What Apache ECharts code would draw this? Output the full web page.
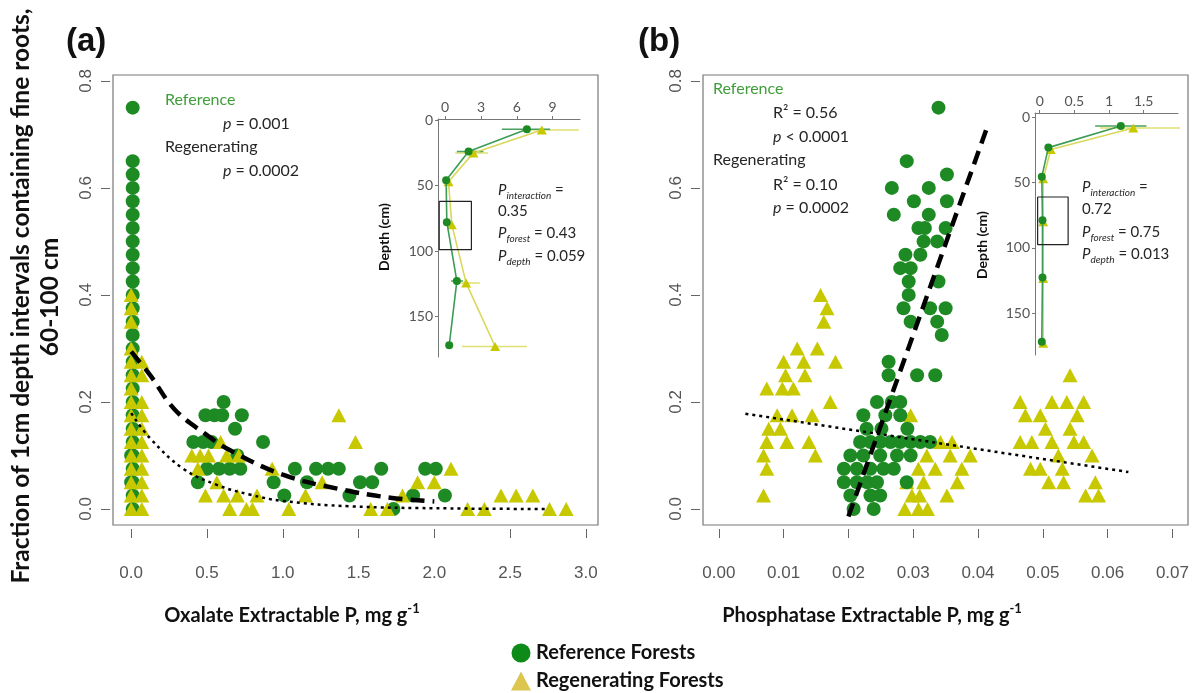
<!DOCTYPE html>
<html><head><meta charset="utf-8">
<script src="https://cdn.jsdelivr.net/npm/echarts@6/dist/echarts.min.js"></script>
<style>html,body{margin:0;padding:0;background:#fff}#c{width:1203px;height:693px}</style>
</head><body><div id="c"></div>
<script>
// ---------- tick labels ----------
const ticksAx = [0, 0.5, 1, 1.5, 2, 2.5, 3];
const ticksBx = [0, 0.01, 0.02, 0.03, 0.04, 0.05, 0.06, 0.07];
const ticksY = [0, 0.2, 0.4, 0.6, 0.8];
const ticksInsetAx = [0, 3, 6, 9];
const ticksInsetBx = [0, 0.5, 1, 1.5];
const ticksDepth = [0, 50, 100, 150];

// ---------- panel (a): oxalate P vs fraction ----------
const refA = [
  [0.01,0.75],[0.01,0.65],[0.01,0.625],[0.01,0.6],[0.01,0.575],[0.01,0.55],[0.01,0.525],[0.01,0.5],
  [0.01,0.475],[0.01,0.45],[0.01,0.425],[0.01,0.4],[0.01,0.375],[0.01,0.35],[0.01,0.325],[0.01,0.3],
  [0.01,0.275],[0.01,0.25],[0.01,0.225],[0.01,0.2],[0.01,0.175],[0.01,0.15],[0.01,0.125],[0.01,0.1],
  [0.01,0.075],[0.01,0.05],[0.01,0.025],[0.01,0.0],[0.0,0.1],[0.0,0.05],
  [0.61,0.2],[0.49,0.175],[0.55,0.175],[0.60,0.175],[0.73,0.175],[0.685,0.15],[0.41,0.125],[0.475,0.125],
  [0.53,0.125],[0.87,0.125],[0.70,0.1],[0.50,0.075],[0.58,0.075],[0.65,0.075],[0.72,0.075],[1.08,0.075],
  [1.22,0.075],[1.30,0.075],[1.37,0.075],[1.65,0.075],[1.94,0.075],[2.01,0.075],[0.44,0.05],[0.94,0.05],
  [1.16,0.05],[1.51,0.05],[1.59,0.05],[1.01,0.025],[1.44,0.025],[1.86,0.025],[2.07,0.025],[1.73,0.0]
];
const regA = [
  [0.0,0.4],[0.0,0.375],[0.0,0.35],[0.0,0.3],[0.0,0.275],[0.0,0.25],[0.0,0.225],[0.0,0.2],[0.0,0.175],
  [0.0,0.15],[0.0,0.125],[0.0,0.1],[0.0,0.075],[0.0,0.05],[0.0,0.025],[0.0,0.0],
  [0.07,0.275],[0.07,0.25],[0.07,0.2],[0.07,0.175],[0.07,0.15],[0.07,0.125],[0.07,0.1],[0.07,0.075],
  [0.07,0.05],[0.07,0.025],[0.07,0.0],
  [1.37,0.175],[1.48,0.125],[0.59,0.125],[0.40,0.1],[0.455,0.1],[0.51,0.1],[0.63,0.1],[0.71,0.1],
  [0.44,0.075],[0.93,0.075],[2.11,0.075],[0.565,0.05],[1.26,0.05],[1.89,0.05],[2.0,0.05],
  [0.49,0.025],[0.61,0.025],[0.70,0.025],[0.83,0.025],[1.15,0.025],[1.79,0.025],[2.44,0.025],[2.54,0.025],[2.65,0.025],
  [0.65,0],[0.76,0],[0.80,0],[1.04,0],[1.58,0],[1.69,0],[2.22,0],[2.33,0],[2.76,0],[2.87,0]
];
const fitRefA = [[0,0.294],[0.125,0.25],[0.29,0.185],[0.5,0.138],[0.65,0.11],[1.0,0.064],[1.36,0.038],[1.71,0.021],[2.0,0.014]];
const fitRegA = [[0,0.179],[0.125,0.132],[0.345,0.075],[0.565,0.045],[0.78,0.027],[1.0,0.015],[1.44,0.005],[2.1,0.001],[2.73,0.0]];

// ---------- panel (b): phosphatase P vs fraction ----------
const refB = [
  [0.0339,0.75],[0.0290,0.65],[0.0352,0.625],[0.0267,0.6],[0.0324,0.6],[0.0301,0.575],[0.0352,0.575],
  [0.0270,0.55],[0.0324,0.55],[0.0308,0.525],[0.0318,0.525],[0.0350,0.525],[0.0316,0.5],[0.0337,0.5],
  [0.0288,0.475],[0.0311,0.475],[0.0280,0.45],[0.0296,0.45],[0.0293,0.425],[0.0339,0.425],[0.0293,0.4],
  [0.0285,0.375],[0.0326,0.375],[0.0350,0.375],[0.0296,0.35],[0.0337,0.35],[0.0344,0.325],
  [0.0262,0.275],[0.0262,0.25],[0.0306,0.25],[0.0334,0.25],
  [0.0244,0.2],[0.0267,0.2],[0.0280,0.2],[0.0223,0.175],[0.0257,0.175],[0.0280,0.175],
  [0.0228,0.15],[0.0251,0.15],[0.0291,0.15],
  [0.0218,0.125],[0.0234,0.125],[0.0249,0.125],[0.0265,0.125],[0.0280,0.125],[0.0296,0.125],[0.0311,0.125],[0.0326,0.125],
  [0.0203,0.1],[0.0223,0.1],[0.0249,0.1],[0.0275,0.1],[0.0296,0.1],
  [0.0193,0.075],[0.0213,0.075],[0.0234,0.075],[0.0254,0.075],[0.0270,0.075],
  [0.0193,0.05],[0.0213,0.05],[0.0229,0.05],[0.0244,0.05],[0.0290,0.05],
  [0.0203,0.025],[0.0234,0.025],[0.0249,0.025],[0.0208,0.0],[0.0239,0.0]
];
const regB = [
  [0.0157,0.4],[0.0167,0.375],[0.0162,0.35],[0.0121,0.3],[0.0152,0.3],[0.0100,0.275],[0.0131,0.275],[0.0180,0.275],
  [0.0103,0.25],[0.0133,0.25],[0.0074,0.225],[0.0098,0.225],[0.0115,0.225],[0.0172,0.2],[0.0090,0.175],[0.0113,0.175],
  [0.0144,0.175],[0.0077,0.15],[0.0095,0.15],[0.0074,0.125],[0.0105,0.125],[0.0139,0.125],[0.0069,0.1],[0.0149,0.1],
  [0.0074,0.075],[0.0069,0.025],
  [0.0296,0.175],[0.0342,0.125],[0.0360,0.125],[0.0321,0.1],[0.0357,0.1],[0.0388,0.1],[0.0375,0.075],[0.0308,0.075],
  [0.0334,0.075],[0.0290,0.05],[0.0316,0.05],[0.0368,0.05],[0.0310,0.025],[0.0352,0.025],[0.0298,0.025],
  [0.0287,0.0],[0.0308,0.0],[0.0322,0.0],
  [0.0542,0.25],[0.0465,0.2],[0.0514,0.2],[0.0537,0.2],[0.0563,0.2],[0.0473,0.175],[0.0496,0.175],[0.0553,0.175],
  [0.0504,0.15],[0.0542,0.15],[0.0465,0.125],[0.0483,0.125],[0.0514,0.125],[0.0548,0.125],[0.0563,0.125],
  [0.0524,0.1],[0.0576,0.1],[0.0481,0.075],[0.0496,0.075],[0.0530,0.075],[0.0509,0.05],[0.0532,0.05],[0.0581,0.05],
  [0.0566,0.025],[0.0586,0.025]
];
const fitRefB = [[0.0200,-0.014],[0.0416,0.72]];
const fitRegB = [[0.0041,0.178],[0.0632,0.069]];

// ---------- insets: mean P by depth ----------
const depthRefA = [7, 24, 46, 78, 123, 172];
const insetRefA = [6.85, 1.96, 0.08, 0.14, 0.98, 0.34];
const depthRegA = [7.5, 25, 47, 80, 124.5, 173];
const insetRegA = [8.1, 2.37, 0.28, 0.56, 1.76, 4.19];
const errRefA = [[7, 4.75, 8.8], [24, 0.98, 3.2], [123, 0.5, 1.5]];
const errRegA = [[7.5, 6.85, 11.2], [25, 0.84, 3.6], [124.5, 0.7, 2.9], [173, 1.4, 6.85]];
const boxA = [-0.5, 2.2, 62, 99];

const depthRefB = [6.6, 23.2, 45.6, 78.8, 122.7, 171.9];
const insetRefB = [1.17, 0.125, 0.03, 0.04, 0.04, 0.03];
const depthRegB = [8.2, 24.7, 47, 80, 123.4, 173];
const insetRegB = [1.35, 0.16, 0.05, 0.05, 0.05, 0.05];
const errRefB = [[6.6, 0.8, 1.54]];
const errRegB = [[8.2, 0.87, 2.05]];
const boxB = [-0.03, 0.41, 61, 97.5];

// ---------- styling ----------
const GREEN = '#1e8a24', YEL = '#c8c800';
const FT = 'Lato, "Open Sans", sans-serif';
const FN = '"Liberation Sans", Arial, sans-serif';

function mainX(g, min, max, ticks, dec) {
  return {type:'value', gridIndex:g, min, max, position:'bottom', offset:4,
    axisLine:{show:false, onZero:false},
    axisTick:{show:true, length:9, customValues:ticks, lineStyle:{color:'#666'}},
    axisLabel:{customValues:ticks, formatter:v=>v.toFixed(dec), margin:36, fontSize:17, color:'#555', fontFamily:FN},
    splitLine:{show:false}};
}
function mainY(g) {
  return {type:'value', gridIndex:g, min:-0.03, max:0.811, offset:3,
    axisLine:{show:false, onZero:false},
    axisTick:{show:true, length:9, customValues:ticksY, lineStyle:{color:'#666'}},
    axisLabel:{customValues:ticksY, formatter:v=>v.toFixed(1), rotate:90, margin:15, fontSize:17, color:'#555', fontFamily:FN},
    splitLine:{show:false}};
}
function insetX(g, min, max, ticks) {
  return {type:'value', gridIndex:g, min, max, position:'top',
    axisLine:{show:true, onZero:false, lineStyle:{color:'#777'}},
    axisTick:{show:true, length:3, customValues:ticks, lineStyle:{color:'#777'}},
    axisLabel:{customValues:ticks, margin:5, fontSize:14, color:'#555', fontFamily:FT},
    splitLine:{show:false}};
}
function insetY(g, min, max) {
  return {type:'value', gridIndex:g, min, max, inverse:true,
    axisLine:{show:true, onZero:false, lineStyle:{color:'#777'}},
    axisTick:{show:true, length:3, customValues:ticksDepth, lineStyle:{color:'#777'}},
    axisLabel:{customValues:ticksDepth, margin:5, fontSize:14, color:'#555', fontFamily:FT},
    splitLine:{show:false}};
}

const series = [];
function scatter(name, xi, data, sym, size, color, z) {
  series.push({type:'scatter', name, xAxisIndex:xi, yAxisIndex:xi, data, symbol:sym, symbolSize:size,
    itemStyle:{color, opacity:1}, z, silent:true});
}
function fitLine(xi, data, width, dash, smooth) {
  series.push({type:'line', xAxisIndex:xi, yAxisIndex:xi, data, smooth, symbol:'none', z:5, silent:true,
    lineStyle:{color:'#000', width, type:dash, cap:'butt'}});
}
// panel a
scatter('Reference Forests', 0, refA, 'circle', 14, GREEN, 2);
scatter('Regenerating Forests', 0, regA, 'triangle', [15,14], YEL, 3);
fitLine(0, fitRefA, 4.5, [14,8], 0.4);
fitLine(0, fitRegA, 2.5, [3,4], 0.4);
// panel b
scatter('Regenerating Forests', 1, regB, 'triangle', [15,14], YEL, 2);
scatter('Reference Forests', 1, refB, 'circle', 14, GREEN, 3);
fitLine(1, fitRefB, 4.5, [14,8], false);
fitLine(1, fitRegB, 2.5, [3,4], false);

function inset(xi, xsR, dsR, xsG, dsG, errR, errG, box) {
  const lineG = '#3d9c55', lineY = '#d8d85a';
  errG.forEach(e => series.push({type:'line', xAxisIndex:xi, yAxisIndex:xi, data:[[e[1],e[0]],[e[2],e[0]]], symbol:'none', z:6, silent:true, lineStyle:{color:'#e0e070', width:1.5}}));
  errR.forEach(e => series.push({type:'line', xAxisIndex:xi, yAxisIndex:xi, data:[[e[1],e[0]],[e[2],e[0]]], symbol:'none', z:6, silent:true, lineStyle:{color:'#4aa060', width:1.5}}));
  series.push({type:'line', xAxisIndex:xi, yAxisIndex:xi, data:xsG.map((v,i)=>[v, dsG[i]]), symbol:'triangle', symbolSize:[10,9], z:7, silent:true,
    lineStyle:{color:lineY, width:1.6}, itemStyle:{color:YEL}});
  series.push({type:'line', xAxisIndex:xi, yAxisIndex:xi, data:xsR.map((v,i)=>[v, dsR[i]]), symbol:'circle', symbolSize:8, z:8, silent:true,
    lineStyle:{color:lineG, width:1.6}, itemStyle:{color:GREEN}});
  series.push({type:'line', xAxisIndex:xi, yAxisIndex:xi, symbol:'none', z:9, silent:true,
    data:[[box[0],box[2]],[box[1],box[2]],[box[1],box[3]],[box[0],box[3]],[box[0],box[2]]],
    lineStyle:{color:'#222', width:1.2}});
}
inset(2, insetRefA, depthRefA, insetRegA, depthRegA, errRefA, errRegA, boxA);
inset(3, insetRefB, depthRefB, insetRegB, depthRegB, errRefB, errRegB, boxB);

// ---------- texts ----------
const TXT = '#262626';
function t(x, y, text, o) {
  return Object.assign({type:'text', x, y, z:20, silent:true,
    style:Object.assign({text, fill:TXT, font:'16px ' + FT, align:'left', verticalAlign:'middle'}, (o && o.style) || {})},
    o && o.rotation ? {rotation:o.rotation} : {});
}
const richAnn = {
  n:{fontSize:16, fontFamily:FT, fill:TXT, lineHeight:22},
  i:{fontSize:16, fontFamily:FT, fontStyle:'italic', fill:TXT, lineHeight:22}
};
const richP = {
  n:{fontSize:15, fontFamily:FT, fill:TXT, lineHeight:21},
  i:{fontSize:15, fontFamily:FT, fontStyle:'italic', fill:TXT, lineHeight:21},
  s:{fontSize:10, fontFamily:FT, fontStyle:'italic', fill:TXT, verticalAlign:'bottom'}
};
const richTitle = {
  b:{fontSize:20, fontFamily:FT, fontWeight:'bold', fill:'#111', lineHeight:28},
  sup:{fontSize:13, fontFamily:FT, fontWeight:'bold', fill:'#111', verticalAlign:'top'}
};
const graphics = [
  t(66, 42, '(a)', {style:{font:'bold 33px "Liberation Sans", Arial, sans-serif', fill:'#111'}}),
  t(638, 42, '(b)', {style:{font:'bold 33px "Liberation Sans", Arial, sans-serif', fill:'#111'}}),
  // y axis title
  t(21, 296, 'Fraction of 1cm depth intervals containing fine roots,', {rotation:Math.PI/2, style:{font:'bold 24.5px ' + FT, fill:'#111', align:'center'}}),
  t(50, 297, '60-100 cm', {rotation:Math.PI/2, style:{font:'bold 24.5px ' + FT, fill:'#111', align:'center'}}),
  // x axis titles
  t(292, 616, '{b|Oxalate Extractable P, mg g}{sup|-1}', {style:{rich:richTitle, align:'center'}}),
  t(872, 616, '{b|Phosphatase Extractable P, mg g}{sup|-1}', {style:{rich:richTitle, align:'center'}}),
  // panel a annotations
  t(165, 100, 'Reference', {style:{fill:'#3f9e3a'}}),
  t(223, 124, '{i|p}{n| = 0.001}', {style:{rich:richAnn}}),
  t(165, 147, 'Regenerating'),
  t(223, 171, '{i|p}{n| = 0.0002}', {style:{rich:richAnn}}),
  // panel b annotations
  t(713, 89, 'Reference', {style:{fill:'#3f9e3a'}}),
  t(773, 113, 'R² = 0.56'),
  t(773, 137, '{i|p}{n| < 0.0001}', {style:{rich:richAnn}}),
  t(713, 160, 'Regenerating'),
  t(773, 185, 'R² = 0.10'),
  t(773, 208, '{i|p}{n| = 0.0002}', {style:{rich:richAnn}}),
  // inset a
  t(498, 190, '{i|P}{s|interaction}{n| =}', {style:{rich:richP}}),
  t(498, 211, '0.35', {style:{font:'15px ' + FT}}),
  t(498, 233, '{i|P}{s|forest}{n| = 0.43}', {style:{rich:richP}}),
  t(498, 256, '{i|P}{s|depth}{n| = 0.059}', {style:{rich:richP}}),
  t(384, 237, 'Depth (cm)', {rotation:Math.PI/2, style:{font:'bold 14px ' + FT, fill:'#111', align:'center'}}),
  // inset b
  t(1082, 187, '{i|P}{s|interaction}{n| =}', {style:{rich:richP}}),
  t(1082, 209, '0.72', {style:{font:'15px ' + FT}}),
  t(1082, 232, '{i|P}{s|forest}{n| = 0.75}', {style:{rich:richP}}),
  t(1082, 254, '{i|P}{s|depth}{n| = 0.013}', {style:{rich:richP}}),
  t(982, 245, 'Depth (cm)', {rotation:Math.PI/2, style:{font:'bold 14px ' + FT, fill:'#111', align:'center'}})
];

const chart = echarts.init(document.getElementById('c'));
chart.setOption({
  animation:false,
  backgroundColor:'#fff',
  grid:[
    {left:113, top:75, width:485, height:450, show:true, borderColor:'#777', borderWidth:1.2, backgroundColor:'transparent'},
    {left:703, top:75, width:485, height:450, show:true, borderColor:'#777', borderWidth:1.2, backgroundColor:'transparent'},
    {left:438, top:119, width:142, height:238},
    {left:1035, top:113, width:143, height:242}
  ],
  xAxis:[
    mainX(0, -0.12, 3.08, ticksAx, 1),
    mainX(1, -0.00244, 0.0724, ticksBx, 2),
    insetX(2, -0.6, 11.3, ticksInsetAx),
    insetX(3, -0.068, 1.995, ticksInsetBx)
  ],
  yAxis:[ mainY(0), mainY(1), insetY(2, -0.9, 181), insetY(3, -3.3, 182) ],
  legend:{orient:'vertical', left:511, top:642, height:51, padding:0, itemWidth:20, itemHeight:19, itemGap:6, selectedMode:false,
    textStyle:{fontSize:20, fontWeight:'bold', color:'#111', fontFamily:FT, lineHeight:22},
    data:[{name:'Reference Forests', icon:'circle', itemStyle:{color:'#0d8a17'}},
          {name:'Regenerating Forests', icon:'triangle', itemStyle:{color:'#dcc64f'}}]},
  series,
  graphic:graphics
});
</script>
</body></html>
